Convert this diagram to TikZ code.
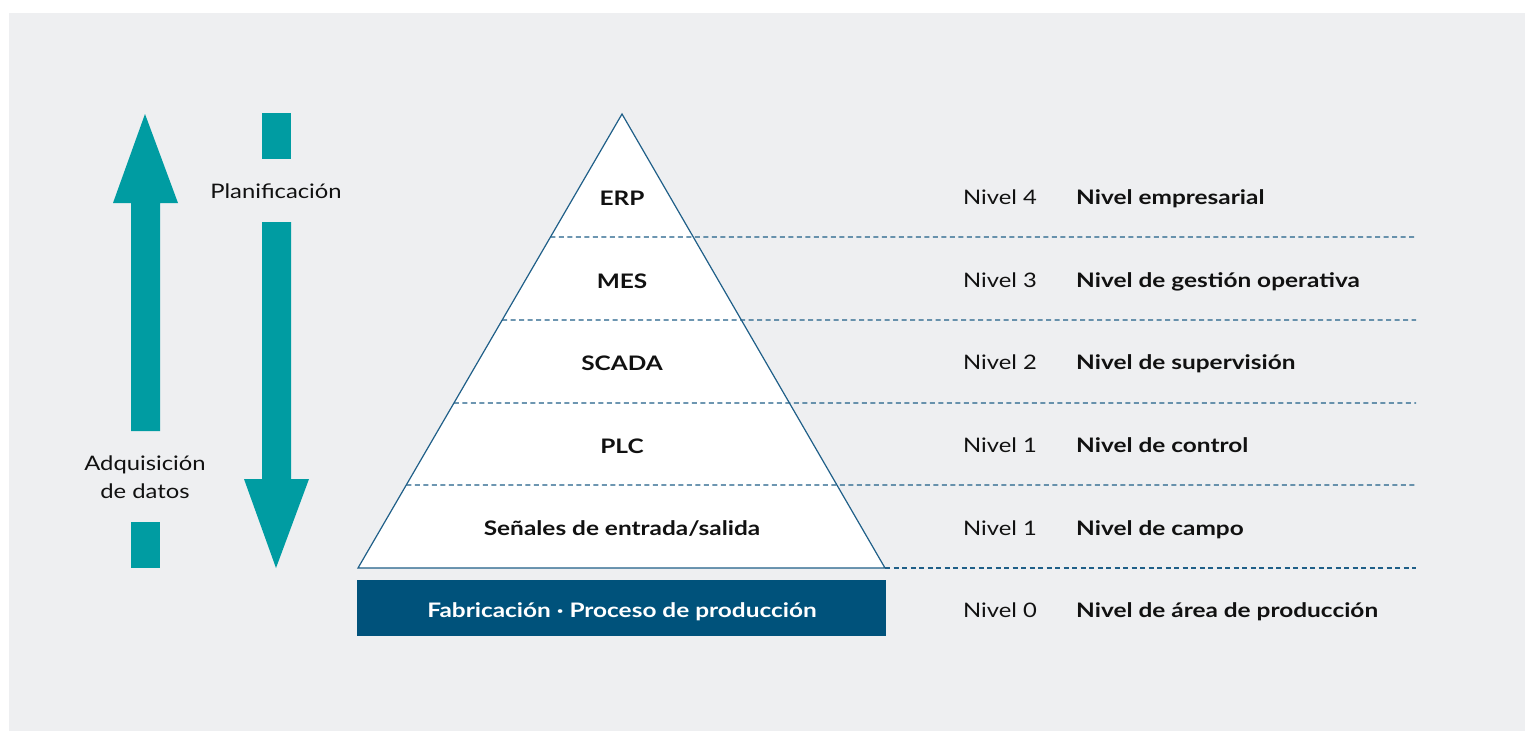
\documentclass[tikz,border=0pt]{standalone}
\usepackage{fontspec}
\setmainfont{Lato}[FakeStretch=1.19, BoldFeatures={FakeStretch=1.22}]
\usetikzlibrary{calc}
\definecolor{bgc}{HTML}{EEEFF1}
\definecolor{teal}{HTML}{009CA2}
\definecolor{navy}{HTML}{00527B}
\definecolor{linec}{HTML}{1F5F88}
\definecolor{txt}{HTML}{111111}
\tikzset{
  arrowshape/.style={fill=teal, draw=none},
  lvltext/.style={font=\fontsize{20}{24}\selectfont\bfseries, text=txt, inner sep=0pt},
  numtext/.style={font=\fontsize{20}{24}\selectfont, text=txt, anchor=base west, inner sep=0pt},
  nametext/.style={font=\fontsize{20}{24}\selectfont\bfseries, text=txt, anchor=base west, inner sep=0pt},
  sidetext/.style={font=\fontsize{20}{24}\selectfont, text=txt, align=center, inner sep=0pt},
  sepline/.style={draw=linec, line width=1.1pt, dash pattern=on 5pt off 3.5pt},
}
\begin{document}
\begin{tikzpicture}[x=1pt,y=-1pt]
\useasboundingbox (0,0) rectangle (1525,731);
\fill[bgc] (9,13) rectangle (1525,731);
% left up arrow
\fill[arrowshape] (145,114) -- (178,203) -- (160,203) -- (160,431) -- (131,431) -- (131,203) -- (113,203) -- cycle;
\fill[arrowshape] (131,522) rectangle (160,568);
% right down arrow
\fill[arrowshape] (262,113) rectangle (291,159);
\fill[arrowshape] (262,222) -- (291,222) -- (291,479) -- (309,479) -- (276,568) -- (244,479) -- (262,479) -- cycle;
\node[sidetext] (plan) at (276,191) {Planificación};
\node[sidetext] (adq) at (145,477) {Adquisición\\[4pt] de datos};
% pyramid
\coordinate (A) at (622,114);
\coordinate (BL) at (358,568);
\coordinate (BR) at (885,568);
\fill[white] (A) -- (BL) -- (BR) -- cycle;
\draw[sepline] ($(A)!0.2709!(BL)$) -- (1416,237);
\draw[sepline] ($(A)!0.4537!(BL)$) -- (1416,320);
\draw[sepline] ($(A)!0.6366!(BL)$) -- (1416,403);
\draw[sepline] ($(A)!0.8172!(BL)$) -- (1416,485);
\draw[sepline] (BR) -- (1416,568);
\draw[draw=linec, line width=1.2pt, line join=miter] (A) -- (BL) -- (BR) -- cycle;
\node[lvltext] (erp) at (622,198) {ERP};
\node[lvltext] (mes) at (622,281) {MES};
\node[lvltext] (scada) at (622,363) {SCADA};
\node[lvltext] (plc) at (622,446) {PLC};
\node[lvltext] (io) at (622,529) {Señales de entrada/salida};
\fill[navy] (357,580) rectangle (886,636);
\node[lvltext, text=white] (fab) at (622,612) {Fabricación · Proceso de producción};
% right labels
\node[numtext] (n4) at (963,204) {Nivel 4};
\node[nametext] (l4) at (1076,204) {Nivel empresarial};
\node[numtext] (n3) at (963,287) {Nivel 3};
\node[nametext] (l3) at (1076,287) {Nivel de gestión operativa};
\node[numtext] (n2) at (963,369) {Nivel 2};
\node[nametext] (l2) at (1076,369) {Nivel de supervisión};
\node[numtext] (n1) at (963,452) {Nivel 1};
\node[nametext] (l1) at (1076,452) {Nivel de control};
\node[numtext] (n1b) at (963,535) {Nivel 1};
\node[nametext] (l1b) at (1076,535) {Nivel de campo};
\node[numtext] (n0) at (963,617) {Nivel 0};
\node[nametext] (l0) at (1076,617) {Nivel de área de producción};
\end{tikzpicture}
\end{document}
